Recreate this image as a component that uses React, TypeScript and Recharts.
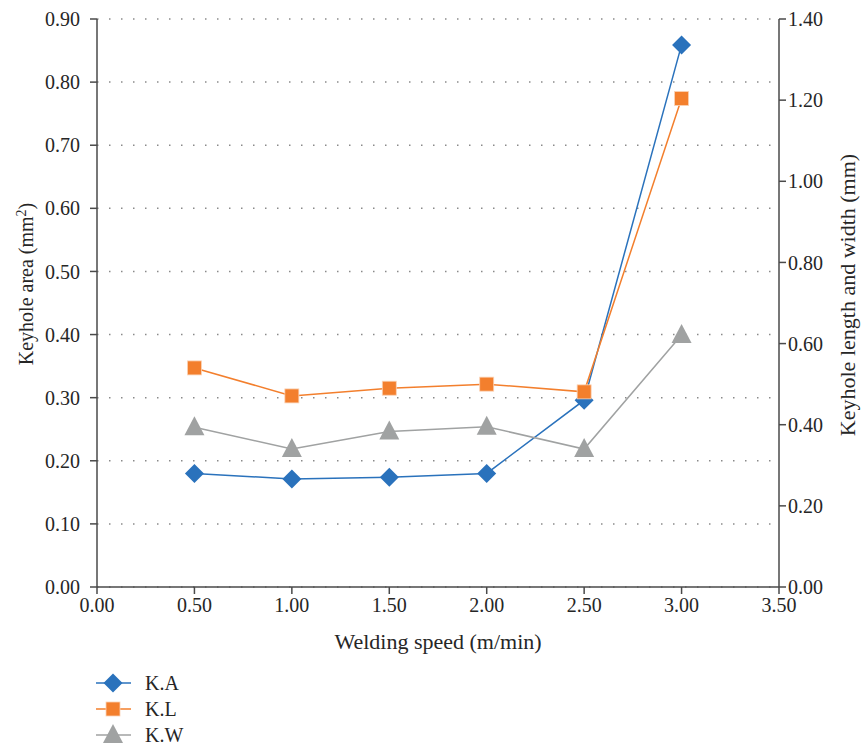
import React from 'react';
import {
    LineChart,
    Line,
    XAxis,
    YAxis,
    CartesianGrid,
    Legend,
    Label
} from 'recharts';

const speeds = [0.5, 1.0, 1.5, 2.0, 2.5, 3.0];
const keyholeArea = [0.18, 0.171, 0.174, 0.18, 0.296, 0.859];
const keyholeLength = [0.54, 0.471, 0.49, 0.5, 0.481, 1.204];
const keyholeWidth = [0.394, 0.34, 0.383, 0.395, 0.34, 0.621];

const xTicks = [0, 0.5, 1.0, 1.5, 2.0, 2.5, 3.0, 3.5];
const leftTicks = [0, 0.1, 0.2, 0.3, 0.4, 0.5, 0.6, 0.7, 0.8, 0.9];
const rightTicks = [0, 0.2, 0.4, 0.6, 0.8, 1.0, 1.2, 1.4];

const seriesNames = ['K.A', 'K.L', 'K.W'];
const seriesColors = ['#2A72BC', '#F37F2D', '#A0A2A2'];

const data = speeds.map((s, i) => ({
    speed: s,
    area: keyholeArea[i],
    length: keyholeLength[i],
    width: keyholeWidth[i],
}));

const FONT = 'Liberation Serif';
const TEXT = '#262626';
const AXIS = '#4a4a4a';

const Diamond = ({ cx, cy, fill }: any) => {
    if (cx == null || cy == null) return null;
    const r = 9.5;
    return <polygon points={`${cx},${cy - r} ${cx + r},${cy} ${cx},${cy + r} ${cx - r},${cy}`} fill={fill} />;
};

const Square = ({ cx, cy, fill }: any) => {
    if (cx == null || cy == null) return null;
    const r = 7;
    return <rect x={cx - r} y={cy - r} width={r * 2} height={r * 2} fill={fill} stroke="#fbd3b6" strokeWidth={0.8} />;
};

const Triangle = ({ cx, cy, fill }: any) => {
    if (cx == null || cy == null) return null;
    return <polygon points={`${cx},${cy - 11} ${cx + 10},${cy + 8} ${cx - 10},${cy + 8}`} fill={fill} />;
};

const markers = [Diamond, Square, Triangle];

const renderLegend = () => (
    <div style={{ height: 76, fontFamily: FONT, fontSize: 20, color: TEXT }}>
        {seriesNames.map((name, i) => {
            const M = markers[i];
            return (
                <div key={name} style={{ display: 'flex', alignItems: 'center', height: 26 }}>
                    <svg width={36} height={24}>
                        <line x1={0} y1={12} x2={35} y2={12} stroke={seriesColors[i]} strokeWidth={1.5} />
                        <M cx={17} cy={12} fill={seriesColors[i]} />
                    </svg>
                    <span style={{ marginLeft: 13 }}>{name}</span>
                </div>
            );
        })}
    </div>
);

const tickStyle = { fill: TEXT, fontFamily: FONT, fontSize: 20 };

export default function App() {
    return (
        <div style={{ position: 'absolute', left: 0, top: 0, background: '#fff' }}>
            <LineChart
                width={862}
                height={746}
                data={data}
                margin={{ top: 19, right: 0, left: 0, bottom: 0 }}
            >
                <CartesianGrid
                    yAxisId="left"
                    vertical={false}
                    stroke="#8a8a8a"
                    strokeDasharray="1.5 10.5"
                    strokeWidth={1.5}
                />
                <XAxis
                    dataKey="speed"
                    type="number"
                    domain={[0, 3.5]}
                    ticks={xTicks}
                    tickFormatter={(v) => v.toFixed(2)}
                    tick={tickStyle}
                    tickSize={7}
                    tickMargin={4}
                    axisLine={{ stroke: AXIS, strokeWidth: 1.5 }}
                    tickLine={{ stroke: AXIS, strokeWidth: 1.5 }}
                    height={83}
                    interval={0}
                >
                    <Label
                        value="Welding speed (m/min)"
                        position="insideTop"
                        offset={46}
                        style={{ fill: TEXT, fontFamily: FONT, fontSize: 22 }}
                    />
                </XAxis>
                <YAxis
                    yAxisId="left"
                    domain={[0, 0.9]}
                    ticks={leftTicks}
                    tickFormatter={(v) => v.toFixed(2)}
                    tick={tickStyle}
                    tickSize={7}
                    tickMargin={10}
                    axisLine={{ stroke: AXIS, strokeWidth: 1.5 }}
                    tickLine={{ stroke: AXIS, strokeWidth: 1.5 }}
                    width={97}
                    interval={0}
                >
                    <Label
                        content={() => (
                            <text
                                x={33}
                                y={284}
                                transform="rotate(-90 33 284)"
                                textAnchor="middle"
                                fill={TEXT}
                                fontFamily={FONT}
                                fontSize={20}
                            >
                                Keyhole area (mm
                                <tspan dy={-7} fontSize={14}>2</tspan>
                                <tspan dy={7}>)</tspan>
                            </text>
                        )}
                    />
                </YAxis>
                <YAxis
                    yAxisId="right"
                    orientation="right"
                    domain={[0, 1.4]}
                    ticks={rightTicks}
                    tickFormatter={(v) => v.toFixed(2)}
                    tick={tickStyle}
                    tickSize={7}
                    tickMargin={2}
                    axisLine={{ stroke: AXIS, strokeWidth: 1.5 }}
                    tickLine={{ stroke: AXIS, strokeWidth: 1.5 }}
                    width={83}
                    interval={0}
                >
                    <Label
                        content={() => (
                            <text
                                x={855}
                                y={295}
                                transform="rotate(-90 855 295)"
                                textAnchor="middle"
                                fill={TEXT}
                                fontFamily={FONT}
                                fontSize={22}
                            >
                                Keyhole length and width (mm)
                            </text>
                        )}
                    />
                </YAxis>
                <Legend
                    verticalAlign="bottom"
                    align="left"
                    content={renderLegend}
                    wrapperStyle={{ left: 96 }}
                />
                <Line
                    yAxisId="left"
                    dataKey="area"
                    name="K.A"
                    stroke={seriesColors[0]}
                    strokeWidth={1.5}
                    dot={<Diamond fill={seriesColors[0]} />}
                    activeDot={false}
                    isAnimationActive={false}
                />
                <Line
                    yAxisId="right"
                    dataKey="length"
                    name="K.L"
                    stroke={seriesColors[1]}
                    strokeWidth={1.5}
                    dot={<Square fill={seriesColors[1]} />}
                    activeDot={false}
                    isAnimationActive={false}
                />
                <Line
                    yAxisId="right"
                    dataKey="width"
                    name="K.W"
                    stroke={seriesColors[2]}
                    strokeWidth={1.5}
                    dot={<Triangle fill={seriesColors[2]} />}
                    activeDot={false}
                    isAnimationActive={false}
                />
            </LineChart>
        </div>
    );
}
